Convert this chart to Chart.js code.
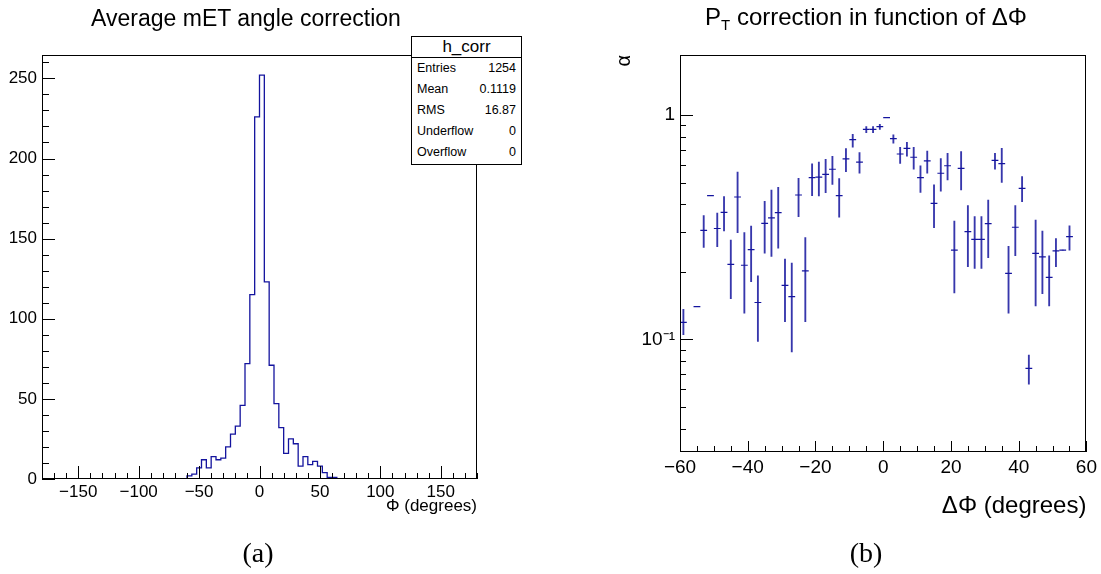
<!DOCTYPE html>
<html>
<head>
<meta charset="utf-8">
<script src="https://cdn.jsdelivr.net/npm/chart.js@4"></script>
<style>
  body { margin: 0; background: #fff; }
  #page { position: relative; width: 1101px; height: 574px; overflow: hidden; font-family: 'Liberation Sans', Arial, sans-serif; color: #000; }
  .box { position: absolute; top: 0; height: 574px; }
  .title { position: absolute; font-size: 23px; white-space: nowrap; transform: translate(-50%, -50%); }
  .caption { position: absolute; font-family: 'Liberation Serif', 'DejaVu Serif', serif; font-size: 28px; transform: translate(-50%, -50%); }
  #stats { position: absolute; left: 411px; top: 36px; width: 109px; height: 127px; border: 1px solid #000; background: #fff; font-size: 12.5px; }
  #stats .head { height: 20px; border-bottom: 1px solid #000; text-align: center; font-size: 17px; line-height: 20px; }
  #stats .row { display: flex; justify-content: space-between; height: 21px; line-height: 21px; padding: 0 5px 0 5px; }
</style>
</head>
<body>
<div id="page">
  <div class="box" style="left:0;width:540px"><canvas id="histChart"></canvas></div>
  <div class="box" style="left:560px;width:541px"><canvas id="alphaChart"></canvas></div>
  <div class="title" style="left:246px;top:18px">Average mET angle correction</div>
  <div class="title" style="left:866px;top:18px;font-size:24px">P<sub style="font-size:15px">T</sub> correction in function of &Delta;&Phi;</div>
  <div id="stats"></div>
  <div class="caption" style="left:258px;top:553px">(a)</div>
  <div class="caption" style="left:866px;top:553px">(b)</div>
</div>
<script>
// ---- (a) histogram: 4 degree bins from -180 to 180
const histStart = -180;
const histBinWidth = 4;
const histCounts = [
  0, 0, 0, 0, 0, 0, 0, 0, 0, 0,
  0, 0, 0, 0, 0, 0, 0, 0, 0, 0,
  0, 0, 0, 0, 0, 0, 0, 0, 0, 0,
  2, 3, 7, 12, 7, 14, 12, 13, 20, 28,
  33, 46, 72, 115, 226, 252, 123, 71, 47, 32,
  16, 25, 22, 8, 14, 9, 11, 8, 4, 1,
  1, 0, 0, 0, 0, 0, 0, 0, 0, 0,
  0, 0, 0, 0, 0, 0, 0, 0, 0, 0,
  0, 0, 0, 0, 0, 0, 0, 0, 0, 0
];
const histXTicks = [];
for (let v = -180; v <= 180; v += 10) histXTicks.push(v);
const histYTicks = [];
for (let v = 0; v <= 260; v += 10) histYTicks.push(v);
const statsRows = [['Entries', '1254'], ['Mean', '0.1119'], ['RMS', '16.87'], ['Underflow', '0'], ['Overflow', '0']];

// ---- (b) alpha vs delta phi
const alphaX = [-59, -55, -53, -51, -49, -47, -45, -43, -41, -39, -37, -35, -33, -31, -29, -27, -25, -23, -21, -19,
  -17, -15, -13, -11, -9, -7, -5, -3, -1, 1, 3, 5, 7, 9, 11, 13, 15, 17, 19, 21,
  23, 25, 27, 29, 31, 33, 35, 37, 39, 41, 43, 45, 47, 49, 51, 53, 55];
const alphaVal = [0.119, 0.140, 0.306, 0.437, 0.312, 0.368, 0.216, 0.431, 0.214, 0.251, 0.146, 0.329, 0.348, 0.367, 0.174, 0.155, 0.440, 0.202, 0.526, 0.529,
  0.544, 0.573, 0.437, 0.637, 0.776, 0.617, 0.863, 0.863, 0.887, 0.973, 0.784, 0.670, 0.710, 0.648, 0.526, 0.624, 0.404, 0.550, 0.594, 0.250,
  0.578, 0.302, 0.279, 0.279, 0.328, 0.628, 0.607, 0.197, 0.316, 0.471, 0.0743, 0.2416, 0.233, 0.189, 0.248, 0.250, 0.287];
const alphaHi = [0.136, 0.140, 0.356, 0.437, 0.365, 0.433, 0.277, 0.557, 0.299, 0.320, 0.192, 0.412, 0.463, 0.476, 0.228, 0.219, 0.522, 0.284, 0.605, 0.617,
  0.634, 0.654, 0.520, 0.709, 0.820, 0.679, 0.887, 0.887, 0.909, 0.973, 0.815, 0.718, 0.755, 0.718, 0.593, 0.691, 0.488, 0.639, 0.675, 0.337,
  0.686, 0.395, 0.353, 0.353, 0.418, 0.675, 0.710, 0.260, 0.395, 0.531, 0.0851, 0.340, 0.304, 0.236, 0.2815, 0.250, 0.321];
const alphaLo = [0.105, 0.140, 0.257, 0.437, 0.259, 0.304, 0.152, 0.299, 0.131, 0.181, 0.098, 0.242, 0.234, 0.255, 0.120, 0.088, 0.352, 0.120, 0.437, 0.436,
  0.451, 0.491, 0.350, 0.559, 0.718, 0.551, 0.834, 0.834, 0.863, 0.973, 0.748, 0.609, 0.656, 0.573, 0.452, 0.550, 0.315, 0.458, 0.513, 0.161,
  0.463, 0.211, 0.207, 0.207, 0.231, 0.573, 0.501, 0.131, 0.236, 0.411, 0.0631, 0.141, 0.160, 0.141, 0.211, 0.250, 0.250];
const alphaXTicks = [];
for (let v = -60; v <= 60; v += 5) alphaXTicks.push(v);
const alphaYTicks = [0.04, 0.05, 0.06, 0.07, 0.08, 0.09, 0.1, 0.2, 0.3, 0.4, 0.5, 0.6, 0.7, 0.8, 0.9, 1];

const blue = '#14149e';
const font = 'Liberation Sans, Arial, sans-serif';

// stats box
document.getElementById('stats').innerHTML = '<div class="head">h_corr</div>' +
  statsRows.map(r => `<div class="row"><span>${r[0]}</span><span>${r[1]}</span></div>`).join('');

function minus(v) {
  return v < 0 ? '\u2212' + (-v) : String(v);
}

// ROOT style frame with inward tick marks
const rootFrame = {
  id: 'rootFrame',
  afterDraw(chart, args, opts) {
    const { ctx, chartArea: a } = chart;
    const xs = chart.scales.x, ys = chart.scales.y;
    ctx.save();
    ctx.strokeStyle = '#000';
    ctx.lineWidth = 1;
    ctx.beginPath();
    xs.ticks.forEach(t => {
      const px = Math.round(xs.getPixelForValue(t.value)) + 0.5;
      const len = t.label ? opts.xMajor : opts.xMinor;
      ctx.moveTo(px, a.bottom);
      ctx.lineTo(px, a.bottom - len);
    });
    ys.ticks.forEach(t => {
      const py = Math.round(ys.getPixelForValue(t.value)) + 0.5;
      const len = t.label ? opts.yMajor : opts.yMinor;
      ctx.moveTo(a.left, py);
      ctx.lineTo(a.left + len, py);
    });
    ctx.stroke();
    ctx.strokeRect(Math.round(a.left) + 0.5, Math.round(a.top) + 0.5, Math.round(a.width) - 1, Math.round(a.height) - 1);
    ctx.restore();
  }
};

// histogram as a stepped outline over bin edges
const histPoints = histCounts.map((c, i) => ({ x: histStart + i * histBinWidth, y: c }));
histPoints.push({ x: histStart + histCounts.length * histBinWidth, y: histCounts[histCounts.length - 1] });

new Chart(document.getElementById('histChart'), {
  type: 'line',
  data: {
    datasets: [{
      data: histPoints,
      stepped: 'before',
      borderColor: blue,
      borderWidth: 1.3,
      pointRadius: 0,
      fill: false
    }]
  },
  options: {
    responsive: true,
    maintainAspectRatio: false,
    animation: false,
    layout: { padding: { top: 55, right: 63, left: 0, bottom: 0 } },
    plugins: {
      legend: { display: false },
      tooltip: { enabled: false },
      rootFrame: { xMajor: 13, xMinor: 6, yMajor: 13, yMinor: 7 }
    },
    scales: {
      x: {
        type: 'linear', min: -180, max: 180,
        afterBuildTicks: s => { s.ticks = histXTicks.map(v => ({ value: v })); },
        afterFit: s => { s.height = 95; },
        ticks: {
          autoSkip: false, maxRotation: 0, padding: 3, color: '#000',
          font: { family: font, size: 17 },
          callback: v => (v % 50 === 0 && Math.abs(v) < 180) ? minus(v) : ''
        },
        grid: { display: false, drawTicks: false },
        border: { display: false },
        title: { display: true, text: '\u03A6 (degrees)', align: 'end', color: '#000',
          font: { family: font, size: 17 }, padding: { top: 0, bottom: 57 } }
      },
      y: {
        type: 'linear', min: 0, max: 264.6,
        afterBuildTicks: s => { s.ticks = histYTicks.map(v => ({ value: v })); },
        afterFit: s => { s.width = 42; },
        ticks: {
          autoSkip: false, padding: 5, color: '#000',
          font: { family: font, size: 17 },
          callback: v => v % 50 === 0 ? String(v) : ''
        },
        grid: { display: false, drawTicks: false },
        border: { display: false }
      }
    }
  },
  plugins: [rootFrame]
});

new Chart(document.getElementById('alphaChart'), {
  type: 'scatter',
  data: {
    datasets: [{
      type: 'scatter',
      data: alphaX.map((x, i) => ({ x: x, y: alphaVal[i] })),
      pointStyle: 'line',
      pointRadius: 3.4,
      pointHoverRadius: 3.4,
      pointBorderWidth: 1.2,
      borderColor: blue
    }, {
      type: 'bar',
      data: alphaX.map((x, i) => ({ x: x, y: [alphaLo[i], alphaHi[i]] })),
      backgroundColor: 'rgba(20,20,158,0.85)',
      borderWidth: 0,
      barThickness: 1.2
    }]
  },
  options: {
    responsive: true,
    maintainAspectRatio: false,
    animation: false,
    layout: { padding: { top: 55, right: 13, left: 0, bottom: 0 } },
    plugins: {
      legend: { display: false },
      tooltip: { enabled: false },
      rootFrame: { xMajor: 11, xMinor: 6, yMajor: 13, yMinor: 6 }
    },
    scales: {
      x: {
        type: 'linear', min: -60, max: 60, offset: false,
        afterBuildTicks: s => { s.ticks = alphaXTicks.map(v => ({ value: v })); },
        afterFit: s => { s.height = 122; },
        ticks: {
          autoSkip: false, maxRotation: 0, padding: 4, color: '#000',
          font: { family: font, size: 19 },
          callback: v => v % 20 === 0 ? minus(v) : ''
        },
        grid: { display: false, drawTicks: false },
        border: { display: false },
        title: { display: true, text: '\u0394\u03A6 (degrees)', align: 'end', color: '#000',
          font: { family: font, size: 24 }, padding: { top: 0, bottom: 53 } }
      },
      y: {
        type: 'logarithmic', min: 0.0315, max: 1.85,
        afterBuildTicks: s => { s.ticks = alphaYTicks.map(v => ({ value: v })); },
        afterFit: s => { s.width = 120; },
        ticks: {
          autoSkip: false, padding: 5, color: '#000',
          font: { family: font, size: 19 },
          callback: v => v === 1 ? '1' : (v === 0.1 ? '10\u207B\u00B9' : '')
        },
        grid: { display: false, drawTicks: false },
        border: { display: false },
        title: { display: true, text: '\u03B1', align: 'end', color: '#000',
          font: { family: font, size: 20 }, padding: { top: 52, bottom: 0 } }
      }
    }
  },
  plugins: [rootFrame]
});
</script>
</body>
</html>
